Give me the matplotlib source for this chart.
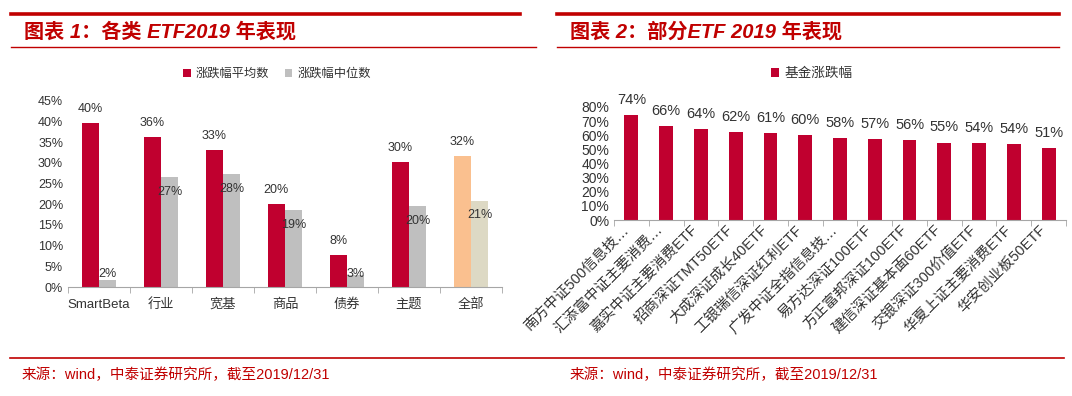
import numpy as np
import matplotlib
matplotlib.use("Agg")
import matplotlib.pyplot as plt
from matplotlib.lines import Line2D

plt.rcParams['font.family'] = ['Liberation Sans', 'Noto Sans CJK SC']

# chart 1: ETF categories 2019
cats1 = ["SmartBeta", "行业", "宽基", "商品", "债券", "主题", "全部"]
avg1 = [39.7, 36.3, 33.1, 20.1, 7.7, 30.2, 31.6]
med1 = [1.6, 26.5, 27.3, 18.7, 2.9, 19.5, 20.9]
avg_labels = ["40%", "36%", "33%", "20%", "8%", "30%", "32%"]
med_labels = ["2%", "27%", "28%", "19%", "3%", "20%", "21%"]

# chart 2: selected ETFs 2019
funds2 = ["南方中证500信息技…", "汇添富中证主要消费…", "嘉实中证主要消费ETF",
          "招商深证TMT50ETF", "大成深证成长40ETF", "工银瑞信深证红利ETF",
          "广发中证全指信息技…", "易方达深证100ETF", "方正富邦深证100ETF",
          "建信深证基本面60ETF", "交银深证300价值ETF", "华夏上证主要消费ETF",
          "华安创业板50ETF"]
ret2 = [74.3, 66.3, 64.4, 62.1, 61.4, 60.2, 57.8, 57.1, 56.4, 54.8, 54.3, 53.6, 51.0]
ret2_labels = ["74%", "66%", "64%", "62%", "61%", "60%", "58%", "57%", "56%",
               "55%", "54%", "54%", "51%"]

RED = "#C0002F"
GRAY = "#BFBFBF"
ORANGE = "#FAC08F"
BEIGE = "#DDD9C4"
LINE_RED = "#C00000"
TXT = "#333333"
AXC = "#A6A6A6"

W, H = 1072, 396
fig = plt.figure(figsize=(W / 100, H / 100), dpi=100)


def fx(px):
    return px / W


def fy(py):
    return 1 - py / H


def hline(x0, x1, y, lw):
    fig.add_artist(Line2D([fx(x0), fx(x1)], [fy(y), fy(y)], color=LINE_RED,
                          lw=lw, transform=fig.transFigure))


# header/footer rules
hline(11, 520, 13.5, 2.6)
hline(11, 536, 47, 1.0)
hline(557, 1059, 13.5, 2.6)
hline(557, 1059, 47, 1.0)
hline(10, 1064, 358, 1.2)

fig.text(fx(24), fy(32), "图表 1：各类 ETF2019 年表现", color=LINE_RED, fontsize=14.5,
         fontweight="bold", style="italic", va="center", ha="left")
fig.text(fx(570), fy(32), "图表 2：部分ETF 2019 年表现", color=LINE_RED, fontsize=14.5,
         fontweight="bold", style="italic", va="center", ha="left")
src = "来源：wind，中泰证券研究所，截至2019/12/31"
fig.text(fx(22), fy(375), src, color=LINE_RED, fontsize=10.5, va="center", ha="left")
fig.text(fx(570), fy(375), src, color=LINE_RED, fontsize=10.5, va="center", ha="left")


def style_axes(ax, n):
    for s in ["top", "right", "left"]:
        ax.spines[s].set_visible(False)
    ax.spines["bottom"].set_color(AXC)
    ax.set_xlim(-0.5, n - 0.5)
    ax.set_xticks(np.arange(-0.5, n, 1.0), minor=True)
    ax.tick_params(axis="x", which="minor", length=4, color=AXC)
    ax.tick_params(axis="x", which="major", length=0, colors=TXT)
    ax.tick_params(axis="y", length=0, colors=TXT)


# ---- chart 1
ax1 = fig.add_axes([fx(68), fy(287), fx(502) - fx(68), (287 - 101) / H])
x1 = np.arange(len(cats1))
w = 0.28
red_cols = [RED] * (len(cats1) - 1) + [ORANGE]
gray_cols = [GRAY] * (len(cats1) - 1) + [BEIGE]
b1 = ax1.bar(x1 - w / 2, avg1, w, color=red_cols, label="涨跌幅平均数")
b2 = ax1.bar(x1 + w / 2, med1, w, color=gray_cols, label="涨跌幅中位数")
ax1.set_ylim(0, 45)
ax1.set_yticks(np.arange(0, 46, 5))
ax1.set_yticklabels([f"{v}%" for v in range(0, 46, 5)], fontsize=9)
style_axes(ax1, len(cats1))
ax1.set_xticks(x1)
ax1.set_xticklabels(cats1, fontsize=9.5, va="baseline")
ax1.tick_params(axis="x", which="major", pad=15)
for xi, v, lab in zip(x1, avg1, avg_labels):
    ax1.annotate(lab, (xi - w / 2, v), xytext=(0, 10), textcoords="offset points",
                 ha="center", va="center", fontsize=9, color=TXT)
for xi, v, lab in zip(x1, med1, med_labels):
    ax1.text(xi + w / 2, max(v - 3.6, 3.1), lab, ha="center", va="center",
             fontsize=9, color=TXT)
ax1.legend(handles=[b1, b2], loc="center", bbox_to_anchor=(fx(277), fy(74)),
           bbox_transform=fig.transFigure, ncol=2, frameon=False, fontsize=8.8,
           handlelength=0.6, handleheight=0.6, handletextpad=0.4, columnspacing=1.3,
           labelcolor=TXT)

# ---- chart 2
ax2 = fig.add_axes([fx(614), fy(220), fx(1066) - fx(614), (220 - 107) / H])
x2 = np.arange(len(funds2))
b3 = ax2.bar(x2, ret2, 0.4, color=RED, label="基金涨跌幅")
ax2.set_ylim(0, 80)
ax2.set_yticks(np.arange(0, 81, 10))
ax2.set_yticklabels([f"{v}%" for v in range(0, 81, 10)], fontsize=10)
style_axes(ax2, len(funds2))
ax2.set_xticks(x2)
ax2.set_xticklabels(funds2, fontsize=10.5, rotation=45, ha="right", va="top")
ax2.tick_params(axis="x", which="major", pad=2)
for xi, v, lab in zip(x2, ret2, ret2_labels):
    ax2.annotate(lab, (xi, v), xytext=(0, 11), textcoords="offset points",
                 ha="center", va="center", fontsize=10.5, color=TXT)
ax2.legend(handles=[b3], loc="center", bbox_to_anchor=(fx(812), fy(73)),
           bbox_transform=fig.transFigure, frameon=False, fontsize=9.8,
           handlelength=0.6, handleheight=0.6, handletextpad=0.4, labelcolor=TXT)

fig.savefig("out.png", dpi=100, facecolor="white")
